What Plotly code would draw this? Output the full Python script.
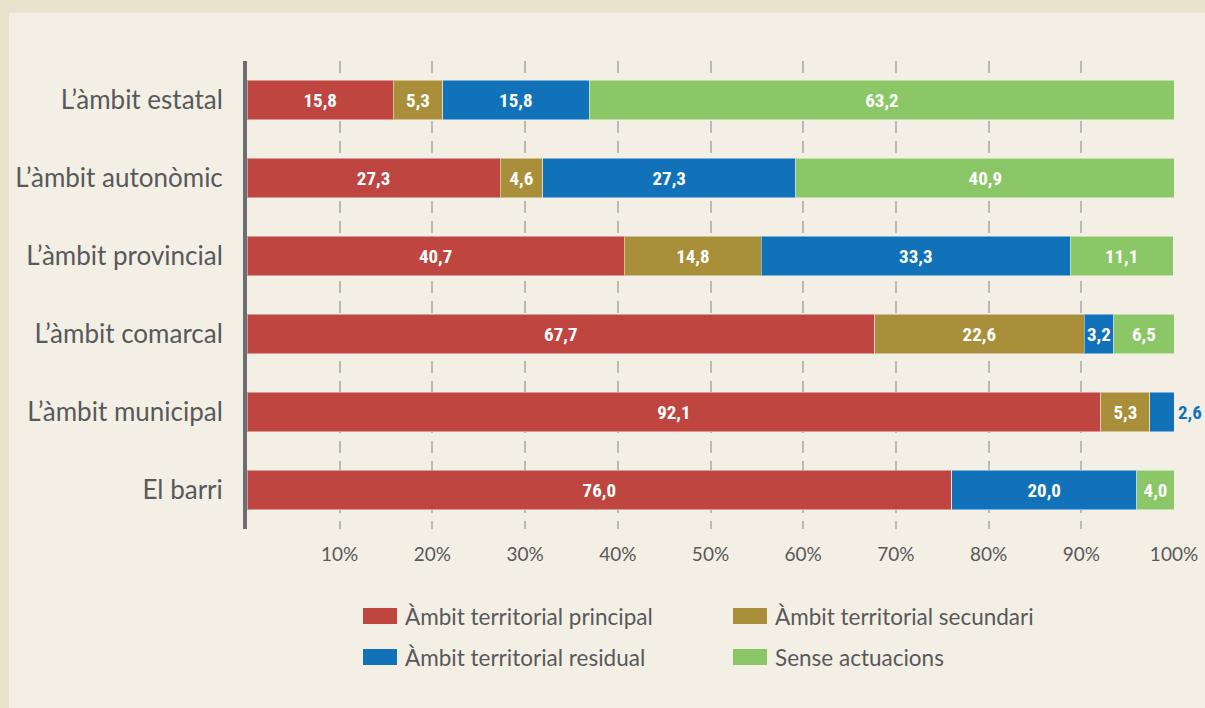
import plotly.graph_objects as go

categories = ["L’àmbit estatal", "L’àmbit autonòmic", "L’àmbit provincial",
              "L’àmbit comarcal", "L’àmbit municipal", "El barri"]
series_names = ["Àmbit territorial principal", "Àmbit territorial secundari",
                "Àmbit territorial residual", "Sense actuacions"]
principal = [15.8, 27.3, 40.7, 67.7, 92.1, 76.0]
secundari = [5.3, 4.6, 14.8, 22.6, 5.3, 0.0]
residual = [15.8, 27.3, 33.3, 3.2, 2.6, 20.0]
sense = [63.2, 40.9, 11.1, 6.5, 0.0, 4.0]
tick_vals = [10, 20, 30, 40, 50, 60, 70, 80, 90, 100]
tick_text = ["10%", "20%", "30%", "40%", "50%", "60%", "70%", "80%", "90%", "100%"]

colors = ["#BE4540", "#A98F3A", "#1172BA", "#8BC766"]
series = [principal, secundari, residual, sense]

def fmt(v):
    return "" if not v else f"{v:.1f}".replace(".", ",")

LABEL_FONT = "Liberation Sans Narrow, Arial Narrow, Roboto Condensed, Roboto, sans-serif"

fig = go.Figure()
for name, vals, col in zip(series_names, series, colors):
    texts = []
    for i, v in enumerate(vals):
        if name == "Àmbit territorial residual" and categories[i] == "L’àmbit municipal":
            texts.append("")
        else:
            texts.append(fmt(v))
    fig.add_trace(go.Bar(
        y=categories, x=vals, name=name, orientation="h",
        marker=dict(color=col, line=dict(color="rgba(255,255,255,0.45)", width=1)),
        text=texts, textposition="inside",
        insidetextanchor="middle", textangle=0, constraintext="none",
        textfont=dict(family=LABEL_FONT, size=19, color="white", weight="bold"),
        showlegend=False, width=0.51,
    ))

# outside label for the small residual value in "L'àmbit municipal"
mi = categories.index("L’àmbit municipal")
end_x = principal[mi] + secundari[mi] + residual[mi]
fig.add_annotation(x=end_x, y=categories[mi], text=fmt(residual[mi]), showarrow=False,
                   xanchor="left", xshift=2,
                   font=dict(family=LABEL_FONT, size=19, color=colors[2], weight="bold"))

# manual legend
leg_pos = [(363, 616), (733, 616), (363, 657), (733, 657)]
W, H = 1205, 708
for (px, py), name, col in zip(leg_pos, series_names, colors):
    fig.add_shape(type="rect", xref="paper", yref="paper",
                  x0=(px - 247) / 927, x1=(px + 34 - 247) / 927,
                  y0=(529 - (py + 8)) / 468, y1=(529 - (py - 8)) / 468,
                  fillcolor=col, line=dict(width=0), layer="above")
    fig.add_annotation(xref="paper", yref="paper",
                       x=(px + 40 - 247) / 927, y=(529 - py) / 468,
                       text=name, showarrow=False, xanchor="left", yanchor="middle",
                       font=dict(family="Lato, Open Sans, sans-serif", size=22.5, color="#58595b"))

# background panel
fig.add_shape(type="rect", xref="paper", yref="paper",
              x0=(9 - 247) / 927, x1=(1215 - 247) / 927,
              y0=(529 - 720) / 468, y1=(529 - 13) / 468,
              fillcolor="#F3EFE4", line=dict(width=0), layer="below")

fig.update_layout(
    barmode="stack",
    width=W, height=H,
    margin=dict(l=247, r=31, t=61, b=179, autoexpand=False),
    paper_bgcolor="#E9E3CB", plot_bgcolor="rgba(0,0,0,0)",
    uniformtext=dict(minsize=19, mode="show"),
    font=dict(family="Lato, Open Sans, sans-serif", color="#58595b"),
)
fig.update_xaxes(range=[0, 100], tickvals=tick_vals, ticktext=tick_text,
                 showgrid=True, gridcolor="#B9B9B9", gridwidth=1.5, griddash="12px,8px",
                 zeroline=False, showline=False, ticks="", ticklabelstandoff=12,
                 automargin=False,
                 tickfont=dict(family="Lato, Open Sans, sans-serif", size=19, color="#58595b"),
                 fixedrange=True)
fig.update_yaxes(autorange="reversed", showgrid=False, zeroline=False,
                 showline=True, linecolor="#6D6E71", linewidth=4,
                 ticks="", ticklabelstandoff=15, automargin=False,
                 tickfont=dict(family="Lato, Open Sans, sans-serif", size=26, color="#58595b"),
                 fixedrange=True)

fig.write_html("out.html", config={"displayModeBar": False},
               post_script="document.body.style.margin='0px';document.body.style.overflow='hidden';")
